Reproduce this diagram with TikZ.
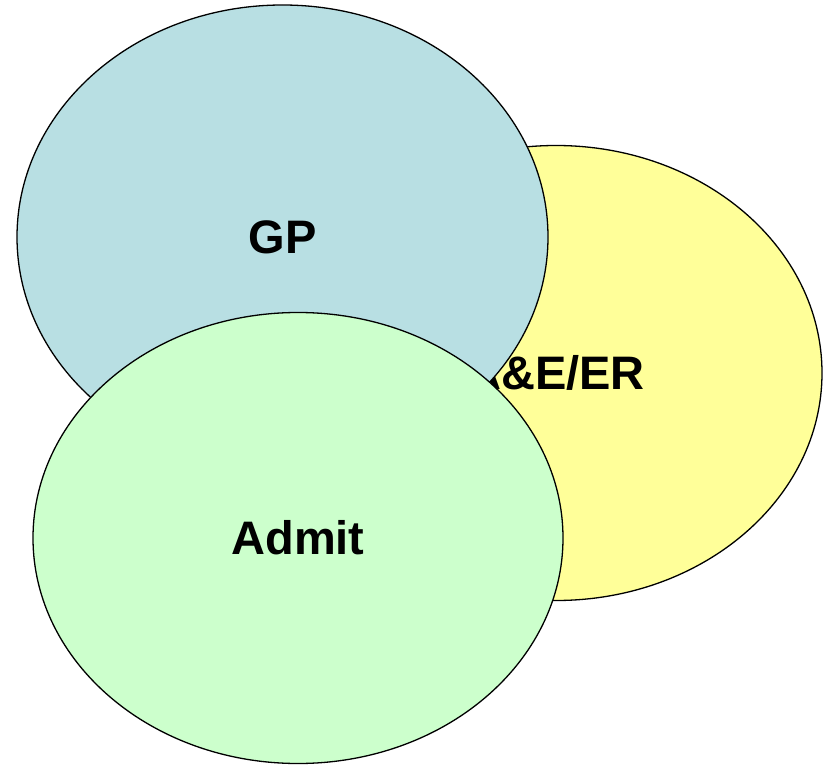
\documentclass[tikz,border=0pt]{standalone}
\usepackage{fontspec}
\setmainfont{Liberation Sans}
\usetikzlibrary{shapes.geometric}
\definecolor{gpcolor}{RGB}{184, 223, 227}
\definecolor{aecolor}{RGB}{255, 255, 153}
\definecolor{admitcolor}{RGB}{204, 255, 204}

\begin{document}
\begin{tikzpicture}[x=1pt, y=-1pt,
    ring/.style={ellipse, draw=black, line width=1.3pt, inner sep=0pt,
        font=\fontsize{47}{56}\selectfont\bfseries}]
    \useasboundingbox (0, 0) rectangle (825, 765);

    % A&E/ER sits at the back
    \node[ring, fill=aecolor, minimum width=532pt, minimum height=455pt] (ae) at (556, 373) {A\&E/ER};

    % GP over it
    \node[ring, fill=gpcolor, minimum width=531pt, minimum height=464pt] (gp) at (282.5, 237) {GP};

    % Admit in front
    \node[ring, fill=admitcolor, minimum width=530pt, minimum height=451pt] (admit) at (298, 538) {Admit};
\end{tikzpicture}
\end{document}
